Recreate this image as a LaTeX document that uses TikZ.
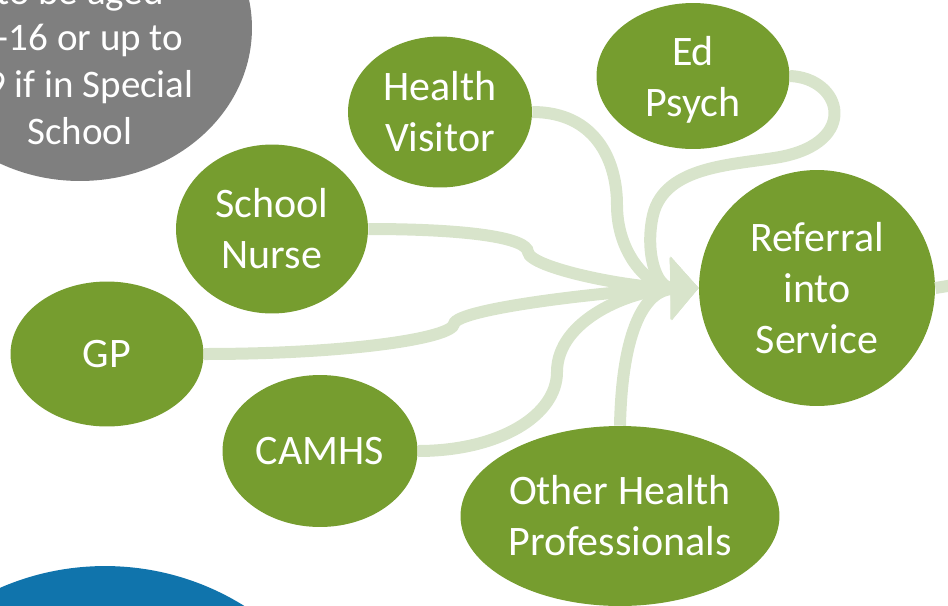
\documentclass[tikz,border=0pt]{standalone}
\usepackage{fontspec}
\setmainfont{Carlito}
\usetikzlibrary{arrows.meta, shapes.geometric}

\definecolor{leaf}{RGB}{118,157,47}
\definecolor{pale}{RGB}{216,228,203}
\definecolor{slate}{RGB}{127,127,127}
\definecolor{ocean}{RGB}{16,116,172}

\begin{document}
\begin{tikzpicture}[x=0.02cm, y=-0.02cm,
  bubble/.style={ellipse, fill=leaf, text=white, inner sep=0pt, align=center, font=\fontsize{23.9}{29}\selectfont},
  feed/.style={draw=pale, line width=0.24cm},
  arrowin/.style={-{Triangle[length=0.56cm, width=1.22cm]}}]
\useasboundingbox (0,0) rectangle (948,606);
\clip (0,0) rectangle (948,606);

% The side bubbles
\fill [slate] (80,28) ellipse [x radius=3.44cm, y radius=3.06cm];
\node [text=white, inner sep=0pt, align=center, font=\fontsize{22.2}{26.7}\selectfont] (age) at (80,61) {to be aged\\5-16 or up to\\19 if in Special\\School};
\node [circle, fill=ocean, minimum size=10.52cm] (lower) at (105,829) {};

% The referrers
\node [bubble, minimum width=3.68cm, minimum height=3.02cm] (visitor) at (440,112) {Health\\Visitor};
\node [bubble, text depth=0pt, minimum width=3.86cm, minimum height=2.92cm] (edpsych) at (693,76) {Ed\\Psych};
\node [bubble, minimum width=3.84cm, minimum height=3.38cm] (nurse) at (272,229) {School\\Nurse};
\node [bubble, minimum width=3.86cm, minimum height=2.90cm] (gp) at (107,354) {GP};
\node [bubble, minimum width=3.90cm, minimum height=3.04cm] (camhs) at (320,451) {CAMHS};
\node [bubble, minimum width=6.38cm, minimum height=3.60cm] (other) at (620,516) {Other Health\\Professionals};

% The referral
\node [bubble, circle, minimum size=4.72cm] (referral) at (817,288) {Referral\\into\\Service};
\coordinate (onward) at (960,284);

% Routes into the service
\draw [feed][arrowin] (visitor.east) .. controls (595,112) and (617,160) .. (617,205) .. controls (617,255) and (650,288) .. (referral.west);
\draw [feed][arrowin] (edpsych.east) .. controls (842,78) and (860,142) .. (780,157) .. controls (735,165) and (665,165) .. (653,215) .. controls (645,250) and (655,288) .. (referral.west);
\draw [feed][arrowin] (nurse.east) .. controls (470,229) and (527,238) .. (528,252) .. controls (530,268) and (630,288) .. (referral.west);
\draw [feed][arrowin] (gp.east) .. controls (350,354) and (452,338) .. (454,324) .. controls (456,308) and (620,290) .. (referral.west);
\draw [feed][arrowin] (camhs.east) .. controls (500,451) and (557,415) .. (557,372) .. controls (557,320) and (630,290) .. (referral.west);
\draw [feed][arrowin] (other.north) .. controls (622,330) and (645,290) .. (referral.west);
\draw [feed] (referral.east) -- (onward);

\end{tikzpicture}
\end{document}
